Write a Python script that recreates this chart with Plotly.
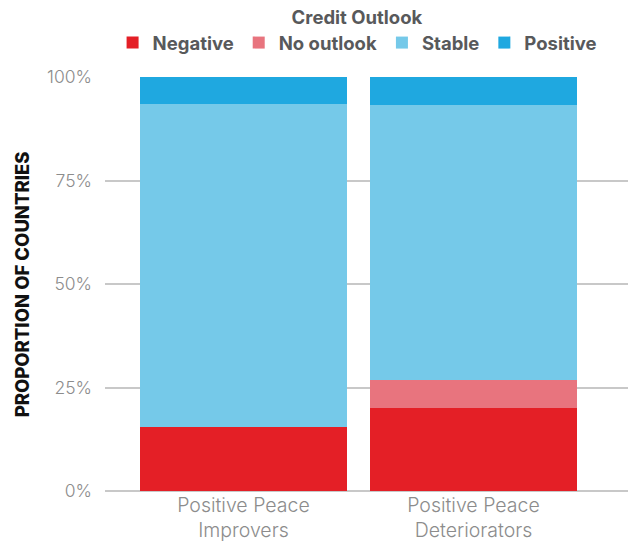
import plotly.graph_objects as go

categories = ["Positive Peace<br>Improvers", "Positive Peace<br>Deteriorators"]
series_names = ["Negative", "No outlook", "Stable", "Positive"]
negative = [15.5, 20.0]
no_outlook = [0.0, 6.7]
stable = [78.0, 66.6]
positive = [6.5, 6.7]
y_ticks = [0, 25, 50, 75, 100]
y_tick_labels = ["0%", "25%", "50%", "75%", "100%"]

colors = ["#E41F26", "#E8747E", "#75C9E9", "#1FA8E0"]
values = [negative, no_outlook, stable, positive]

fig = go.Figure()
for name, vals, col in zip(series_names, values, colors):
    fig.add_trace(go.Bar(x=categories, y=vals, name=name, marker=dict(color=col, line=dict(width=0)),
                         width=0.9))

FONT = "Inter"
fig.update_layout(
    barmode="stack",
    width=630, height=541,
    margin=dict(l=105, r=2, t=77, b=50),
    plot_bgcolor="white", paper_bgcolor="white",
    font=dict(family=FONT, color="#8c8c8c"),
    showlegend=True,
    legend=dict(
        orientation="h", x=0.482, xanchor="center", y=1.0, yanchor="top",
        yref="container",
        title=dict(text="Credit Outlook", side="top center",
                   font=dict(size=18.5, color="#58595b", family=FONT, weight=700)),
        font=dict(size=18.5, color="#58595b", family=FONT, weight=700),
        itemwidth=30, traceorder="normal", tracegroupgap=0,
    ),
)
fig.update_xaxes(range=[-0.602, 1.672], showgrid=False, showline=False, zeroline=False,
                 tickfont=dict(size=19.5, color="#8c8c8c", family=FONT, weight=300), ticks="",
                 ticklabelstandoff=0, automargin=False)
fig.update_yaxes(range=[0, 100], tickvals=y_ticks, ticktext=y_tick_labels,
                 showgrid=True, gridcolor="#c8c8c8", gridwidth=1.5,
                 zeroline=True, zerolinecolor="#c8c8c8", zerolinewidth=1.5,
                 showline=False, ticks="", ticklabelstandoff=12, automargin=False,
                 tickfont=dict(size=17.5, color="#8c8c8c", family=FONT, weight=300))
fig.add_annotation(text="PROPORTION OF COUNTRIES", textangle=-90, xref="paper", yref="paper",
                   x=-0.158, y=0.5, xanchor="center", yanchor="middle", showarrow=False,
                   font=dict(size=18.5, color="#111111", family=FONT, weight=800))
fig.write_html("out.html", config={"displayModeBar": False},
               post_script="document.body.style.margin='0';document.body.style.overflow='hidden';")
